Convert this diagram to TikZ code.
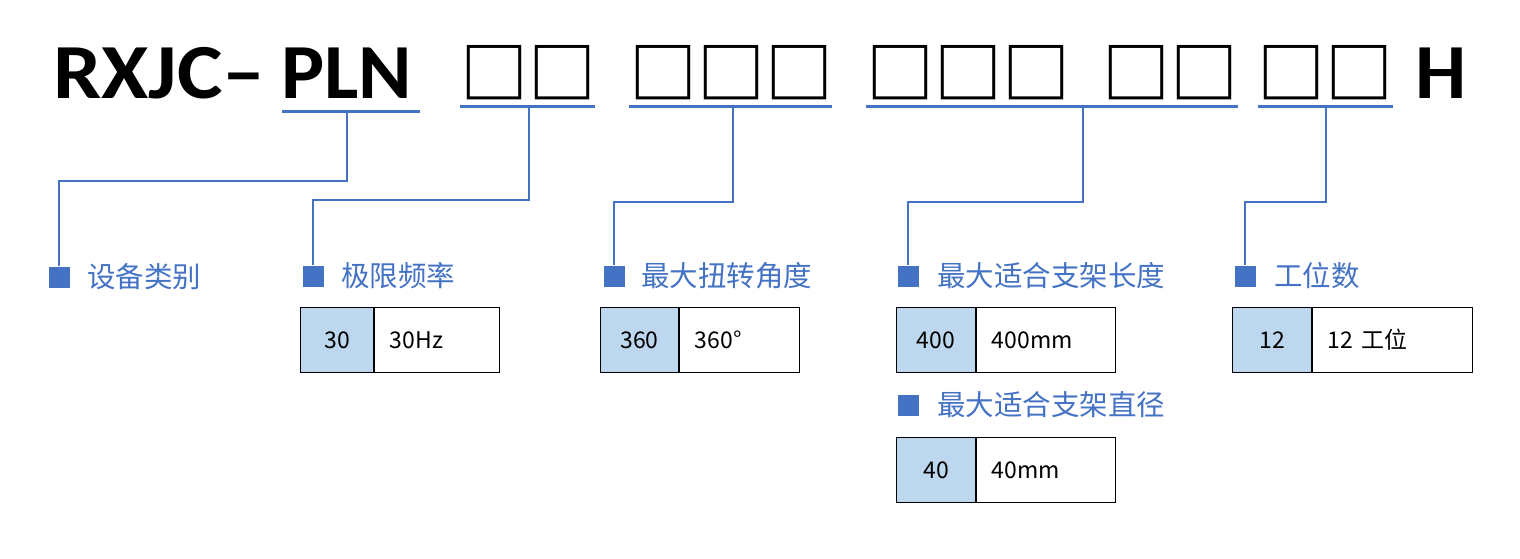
\documentclass[tikz,border=0pt]{standalone}
\usepackage{fontspec}
\newfontfamily\cjk{Noto Sans CJK SC}
\newfontfamily\cjkbold{Noto Sans CJK SC Bold}
\newfontfamily\titlefont{Carlito}
\definecolor{accent}{HTML}{4472C4}
\definecolor{cellblue}{HTML}{BDD7EE}
\tikzset{
  x=1pt, y=-1pt,
  title/.style={inner sep=0pt, anchor=base west, font=\titlefont\bfseries\fontsize{78}{78}\selectfont},
  slots/.style={inner sep=0pt, anchor=base, font=\cjkbold\fontsize{68}{68}\selectfont},
  uline/.style={accent, line width=3pt},
  conn/.style={accent, line width=1.3pt},
  bullet/.style={fill=accent, minimum size=21pt, inner sep=0pt},
  lbl/.style={text=accent, inner sep=0pt, anchor=west, font=\cjk\fontsize{28.5}{28.5}\selectfont},
  keycell/.style={draw=black, line width=1.2pt, fill=cellblue, anchor=north west, inner sep=0pt, minimum height=65pt, font=\cjk\fontsize{23}{23}\selectfont},
  valcell/.style={draw=black, line width=1.2pt, fill=white, anchor=north west, inner xsep=15pt, inner ysep=0pt, minimum height=65pt, align=left, font=\cjk\fontsize{23}{23}\selectfont},
}
\begin{document}
\begin{tikzpicture}
\useasboundingbox (0,0) rectangle (1520,559);
% title
\node[title, xscale=1.1] (t1) at (53,99) {RXJC–};
\node[title, xscale=1.04] (t2) at (281,99) {PLN};
\node[title, xscale=1.04] (t3) at (1415,99) {H};
\node[slots] (s1) at (528.5,99) {□□};
\node[slots] (s2) at (731.5,99) {□□□};
\node[slots] (s3) at (968.5,99) {□□□};
\node[slots] (s4) at (1170.5,99) {□□};
\node[slots] (s5) at (1325.5,99) {□□};
% underlines
\draw[uline] (282,112) -- (420,112);
\draw[uline] (460,106.5) -- (595,106.5);
\draw[uline] (629,106.5) -- (832,106.5);
\draw[uline] (866,106.5) -- (1238,106.5);
\draw[uline] (1258,106.5) -- (1393,106.5);
\coordinate (c1) at (347,113.5);
\coordinate (c2) at (529,108);
\coordinate (c3) at (733,108);
\coordinate (c4) at (1083,108);
\coordinate (c5) at (1326,108);
% bullets and labels
\node[bullet] (b1) at (59,277) {};
\node[bullet] (b2) at (313,276) {};
\node[bullet] (b3) at (614,276) {};
\node[bullet] (b4) at (908,276) {};
\node[bullet] (b5) at (1245,276) {};
\node[bullet] (b6) at (908,405) {};
\node[lbl] (l1) at (87,277) {设备类别};
\node[lbl] (l2) at (341,276) {极限频率};
\node[lbl] (l3) at (641,276) {最大扭转角度};
\node[lbl] (l4) at (937,276) {最大适合支架长度};
\node[lbl] (l5) at (1274,276) {工位数};
\node[lbl] (l6) at (937,405) {最大适合支架直径};
% connectors
\draw[conn] (c1) -- ++(0,67.5) -| (b1.north);
\draw[conn] (c2) -- ++(0,92) -| (b2.north);
\draw[conn] (c3) -- ++(0,94) -| (b3.north);
\draw[conn] (c4) -- ++(0,94) -| (b4.north);
\draw[conn] (c5) -- ++(0,94) -| (b5.north);
% tables
\node[keycell, minimum width=73pt] (k1) at (300,307) {30};
\node[valcell, text width=95pt] (v1) at (k1.north east) {30Hz};
\node[keycell, minimum width=78pt] (k2) at (600,307) {360};
\node[valcell, text width=90pt] (v2) at (k2.north east) {360°};
\node[keycell, minimum width=79pt] (k3) at (896,307) {400};
\node[valcell, text width=109pt] (v3) at (k3.north east) {400mm};
\node[keycell, minimum width=79pt] (k4) at (896,437) {40};
\node[valcell, text width=109pt] (v4) at (k4.north east) {40mm};
\node[keycell, minimum width=79pt] (k5) at (1232,307) {12};
\node[valcell, text width=130pt] (v5) at (k5.north east) {12 工位};
\end{tikzpicture}
\end{document}
